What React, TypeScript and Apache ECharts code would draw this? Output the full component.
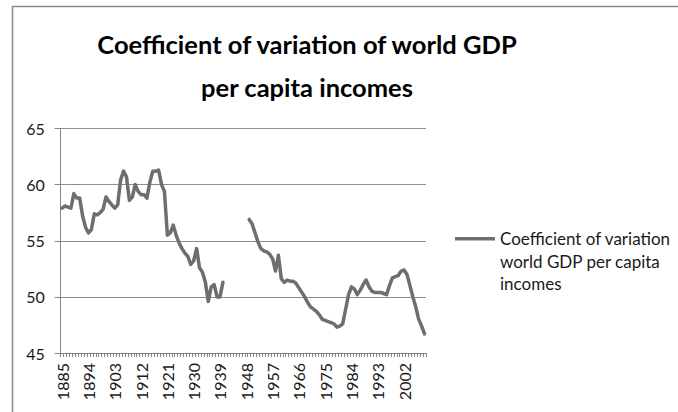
import React, { useEffect, useRef } from "react";
import * as echarts from "echarts";

const years: number[] = [
  1885, 1886, 1887, 1888, 1889, 1890, 1891, 1892, 1893, 1894,
  1895, 1896, 1897, 1898, 1899, 1900, 1901, 1902, 1903, 1904,
  1905, 1906, 1907, 1908, 1909, 1910, 1911, 1912, 1913, 1914,
  1915, 1916, 1917, 1918, 1919, 1920, 1921, 1922, 1923, 1924,
  1925, 1926, 1927, 1928, 1929, 1930, 1931, 1932, 1933, 1934,
  1935, 1936, 1937, 1938, 1939, 1940, 1941, 1942, 1943, 1944,
  1945, 1946, 1947, 1948, 1949, 1950, 1951, 1952, 1953, 1954,
  1955, 1956, 1957, 1958, 1959, 1960, 1961, 1962, 1963, 1964,
  1965, 1966, 1967, 1968, 1969, 1970, 1971, 1972, 1973, 1974,
  1975, 1976, 1977, 1978, 1979, 1980, 1981, 1982, 1983, 1984,
  1985, 1986, 1987, 1988, 1989, 1990, 1991, 1992, 1993, 1994,
  1995, 1996, 1997, 1998, 1999, 2000, 2001, 2002, 2003, 2004,
  2005, 2006, 2007, 2008, 2009,
];

// 1885–1940
const prewarValues: number[] = [
  57.9, 58.1, 58.0, 57.9, 59.2, 58.8, 58.8, 57.2, 56.2, 55.7,
  56.0, 57.4, 57.3, 57.5, 57.8, 58.9, 58.5, 58.2, 57.9, 58.2,
  60.4, 61.2, 60.7, 58.6, 58.9, 60.0, 59.4, 59.1, 59.1, 58.8,
  60.2, 61.2, 61.2, 61.3, 60.0, 59.4, 55.5, 55.7, 56.4, 55.5,
  54.8, 54.3, 53.9, 53.6, 52.9, 53.2, 54.3, 52.6, 52.2, 51.3,
  49.6, 50.9, 51.1, 50.0, 50.0, 51.3,
];

// 1941–1948: no data
const warGapValues: (number | null)[] = [null, null, null, null, null, null, null, null];

// 1949–2009
const postwarValues: number[] = [
  56.9, 56.5, 55.7, 54.9, 54.3, 54.1, 54.0, 53.8, 53.4, 52.3,
  53.7, 51.6, 51.3, 51.5, 51.4, 51.4, 51.2, 50.8, 50.4, 50.0,
  49.5, 49.1, 48.9, 48.7, 48.4, 48.0, 47.9, 47.8, 47.7, 47.6,
  47.3, 47.4, 47.6, 48.9, 50.2, 50.9, 50.7, 50.2, 50.6, 51.1,
  51.5, 50.9, 50.5, 50.4, 50.4, 50.4, 50.3, 50.2, 51.0, 51.7,
  51.8, 51.9, 52.3, 52.4, 52.0, 51.0, 50.0, 49.1, 48.0, 47.4,
  46.7,
];

const yMin = 45;
const yMax = 65;
const yStep = 5;
const xLabelEvery = 9;

const titleLines = ["Coefficient of variation of world GDP", "per capita incomes"];
const seriesName = "Coefficient of variation world GDP per capita incomes";
const legendLines = ["Coefficient of variation", "world GDP per capita", "incomes"];

const FONT = "Lato, 'Open Sans', sans-serif";
const LINE_COLOR = "#6e6e6e";

export default function App() {
  const ref = useRef<HTMLDivElement>(null);

  useEffect(() => {
    if (!ref.current) return;
    const chart = echarts.init(ref.current, null, { renderer: "svg" });
    const values = [...prewarValues, ...warGapValues, ...postwarValues];

    chart.setOption({
      animation: false,
      backgroundColor: "#ffffff",
      textStyle: { fontFamily: FONT },
      title: {
        text: titleLines.join("\n"),
        left: 302,
        top: 17,
        textAlign: "center",
        textStyle: {
          fontFamily: FONT,
          fontWeight: "bold",
          fontSize: 25.5,
          lineHeight: 43,
          color: "#000000",
        },
      },
      graphic: [
        {
          type: "rect",
          silent: true,
          z: -10,
          shape: { x: 12.5, y: 6.5, width: 720, height: 460 },
          style: { fill: "none", stroke: "#8a8a8a", lineWidth: 1.5 },
        },
      ],
      legend: {
        left: 450,
        top: 177.5,
        itemWidth: 40,
        itemHeight: 3.5,
        itemGap: 0,
        icon: "rect",
        itemStyle: { color: LINE_COLOR },
        formatter: () => [" ", " ", ...legendLines].join("\n"),
        textStyle: {
          fontFamily: FONT,
          fontSize: 17,
          lineHeight: 22.5,
          color: "#1a1a1a",
        },
        data: [seriesName],
      },
      grid: {
        left: 60.7,
        right: 252,
        top: 128.5,
        bottom: 59,
        containLabel: false,
      },
      xAxis: {
        type: "category",
        data: years.map(String),
        boundaryGap: true,
        axisLine: { show: true, lineStyle: { color: "#868686", width: 1 } },
        axisTick: { show: true, interval: 0, length: 4, lineStyle: { color: "#868686" } },
        axisLabel: {
          interval: xLabelEvery - 1,
          rotate: 90,
          margin: 10,
          fontFamily: FONT,
          fontSize: 16,
          color: "#1a1a1a",
        },
        splitLine: { show: false },
      },
      yAxis: {
        type: "value",
        min: yMin,
        max: yMax,
        interval: yStep,
        axisLine: { show: true, lineStyle: { color: "#868686", width: 1 } },
        axisTick: { show: true, length: 6, lineStyle: { color: "#868686" } },
        axisLabel: {
          margin: 16,
          fontFamily: FONT,
          fontSize: 16,
          color: "#1a1a1a",
        },
        splitLine: { show: true, lineStyle: { color: "#8c8c8c", width: 1 } },
      },
      series: [
        {
          name: seriesName,
          type: "line",
          data: values,
          connectNulls: false,
          symbol: "none",
          showSymbol: false,
          lineStyle: { color: LINE_COLOR, width: 3.5, join: "round", cap: "round" },
          itemStyle: { color: LINE_COLOR },
        },
      ],
    });

    return () => chart.dispose();
  }, []);

  return (
    <div
      ref={ref}
      style={{ position: "fixed", left: 0, top: 0, width: 678, height: 412, background: "#ffffff" }}
    />
  );
}
